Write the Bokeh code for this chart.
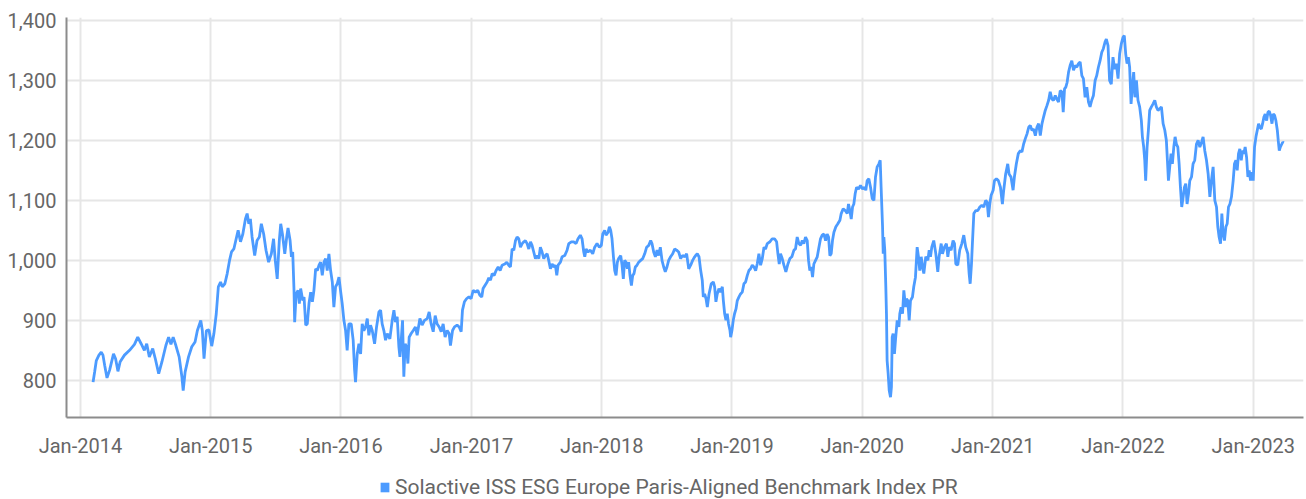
from datetime import datetime
from bokeh.plotting import figure
from bokeh.layouts import column
from bokeh.models import (Range1d, FixedTicker, DatetimeTickFormatter, NumeralTickFormatter,
                          Legend, LegendItem, ColumnDataSource)
from bokeh.embed import file_html
from bokeh.resources import INLINE

series_name = "Solactive ISS ESG Europe Paris-Aligned Benchmark Index PR"

years = [
    2014.097, 2014.109, 2014.122, 2014.142, 2014.160, 2014.173, 2014.186, 2014.204, 2014.224, 2014.254,
    2014.270, 2014.288, 2014.305, 2014.338, 2014.377, 2014.415, 2014.440, 2014.466, 2014.491, 2014.509,
    2014.529, 2014.555, 2014.575, 2014.601, 2014.626, 2014.656, 2014.677, 2014.695, 2014.712, 2014.733,
    2014.758, 2014.779, 2014.789, 2014.804, 2014.830, 2014.855, 2014.880, 2014.898, 2014.924, 2014.936,
    2014.949, 2014.967, 2014.987, 2015.008, 2015.025, 2015.043, 2015.059, 2015.076, 2015.089, 2015.109,
    2015.127, 2015.145, 2015.160, 2015.178, 2015.196, 2015.211, 2015.229, 2015.247, 2015.267, 2015.280,
    2015.293, 2015.305, 2015.318, 2015.338, 2015.356, 2015.374, 2015.389, 2015.407, 2015.425, 2015.445,
    2015.466, 2015.483, 2015.496, 2015.511, 2015.527,
    2015.538, 2015.551, 2015.569, 2015.584, 2015.594, 2015.610, 2015.620, 2015.630, 2015.640, 2015.645,
    2015.656, 2015.671, 2015.681, 2015.691, 2015.707, 2015.717, 2015.730, 2015.742, 2015.755, 2015.768,
    2015.781, 2015.793, 2015.806, 2015.819, 2015.832, 2015.844, 2015.857, 2015.870, 2015.883, 2015.895,
    2015.908, 2015.921, 2015.934, 2015.946, 2015.959, 2015.972, 2015.985, 2015.997, 2016.010, 2016.023,
    2016.036, 2016.048, 2016.061, 2016.079, 2016.094, 2016.105, 2016.112, 2016.125, 2016.138, 2016.151,
    2016.163, 2016.176, 2016.189, 2016.202, 2016.214, 2016.227, 2016.240, 2016.258, 2016.273, 2016.291,
    2016.304, 2016.316, 2016.329, 2016.342, 2016.355, 2016.375, 2016.393, 2016.406, 2016.418, 2016.431,
    2016.444, 2016.452, 2016.462, 2016.472, 2016.482, 2016.492, 2016.503, 2016.513, 2016.523, 2016.538,
    2016.554, 2016.571, 2016.584, 2016.605, 2016.622, 2016.640, 2016.661, 2016.676, 2016.691, 2016.707,
    2016.722, 2016.737, 2016.753, 2016.768, 2016.783, 2016.798, 2016.814, 2016.829, 2016.839, 2016.855,
    2016.870, 2016.890, 2016.906, 2016.921, 2016.931, 2016.946, 2016.962, 2016.980, 2016.997, 2017.013,
    2017.031, 2017.048, 2017.064, 2017.079, 2017.089,
    2017.120, 2017.133, 2017.146, 2017.159, 2017.174, 2017.189, 2017.205, 2017.220, 2017.235, 2017.256,
    2017.271, 2017.286, 2017.299, 2017.312, 2017.325, 2017.338, 2017.350, 2017.363, 2017.376, 2017.389,
    2017.402, 2017.414, 2017.427, 2017.440, 2017.453, 2017.465, 2017.478, 2017.491, 2017.504, 2017.517,
    2017.529, 2017.542, 2017.555, 2017.568, 2017.581, 2017.593, 2017.606, 2017.619, 2017.632, 2017.644,
    2017.655, 2017.665, 2017.683, 2017.696, 2017.716, 2017.734, 2017.747, 2017.767, 2017.785, 2017.803,
    2017.818, 2017.836, 2017.849, 2017.862, 2017.870, 2017.880, 2017.895, 2017.913, 2017.931, 2017.946,
    2017.964, 2017.982, 2017.997, 2018.008, 2018.023, 2018.033, 2018.049, 2018.059, 2018.069, 2018.079,
    2018.090, 2018.100, 2018.110, 2018.120, 2018.130, 2018.146, 2018.156, 2018.166, 2018.176, 2018.187,
    2018.197, 2018.207, 2018.217, 2018.228, 2018.238, 2018.248, 2018.258, 2018.271, 2018.284, 2018.299,
    2018.315, 2018.330, 2018.345, 2018.361, 2018.376, 2018.386, 2018.399, 2018.412, 2018.425, 2018.437,
    2018.450, 2018.463, 2018.476, 2018.488, 2018.501, 2018.514, 2018.529, 2018.545, 2018.560, 2018.575,
    2018.591, 2018.606, 2018.621, 2018.637, 2018.652, 2018.668, 2018.683, 2018.698, 2018.714,
    2018.721, 2018.734, 2018.747, 2018.760, 2018.772, 2018.780, 2018.790, 2018.801, 2018.811, 2018.824,
    2018.841, 2018.857, 2018.867, 2018.877, 2018.887, 2018.900, 2018.913, 2018.926, 2018.934, 2018.944,
    2018.954, 2018.964, 2018.974, 2018.985, 2018.990, 2019.000, 2019.010, 2019.020, 2019.031, 2019.041,
    2019.054, 2019.066, 2019.079, 2019.092, 2019.105, 2019.118, 2019.130, 2019.143, 2019.156, 2019.169,
    2019.182, 2019.194, 2019.207, 2019.220, 2019.233, 2019.246, 2019.258, 2019.271, 2019.292, 2019.309,
    2019.327, 2019.343, 2019.353, 2019.363, 2019.373, 2019.386, 2019.399, 2019.414, 2019.430, 2019.445,
    2019.460, 2019.476, 2019.488, 2019.501, 2019.514, 2019.527, 2019.540, 2019.552, 2019.565, 2019.578,
    2019.588, 2019.598, 2019.609, 2019.619, 2019.629, 2019.642, 2019.655, 2019.668, 2019.680, 2019.693,
    2019.706, 2019.719, 2019.731, 2019.742, 2019.752, 2019.762, 2019.772, 2019.783, 2019.798, 2019.813,
    2019.829, 2019.839, 2019.854, 2019.870, 2019.885, 2019.895, 2019.905, 2019.916, 2019.926, 2019.936,
    2019.946, 2019.957, 2019.972, 2019.987, 2020.003, 2020.018, 2020.028, 2020.038, 2020.051, 2020.064,
    2020.077, 2020.090, 2020.102, 2020.115, 2020.128, 2020.138,
    2020.145, 2020.156, 2020.161, 2020.166, 2020.173, 2020.181, 2020.186, 2020.191, 2020.199, 2020.207,
    2020.217, 2020.224, 2020.230, 2020.237, 2020.247, 2020.255, 2020.268, 2020.281, 2020.288, 2020.298,
    2020.309, 2020.319, 2020.332, 2020.339, 2020.349, 2020.360, 2020.370, 2020.385, 2020.395, 2020.408,
    2020.421, 2020.431, 2020.441, 2020.452, 2020.462, 2020.472, 2020.487, 2020.503, 2020.513, 2020.523,
    2020.533, 2020.548, 2020.564, 2020.579, 2020.589, 2020.605, 2020.615, 2020.630, 2020.645, 2020.656,
    2020.666, 2020.681, 2020.696, 2020.707, 2020.717, 2020.732, 2020.747, 2020.763, 2020.778, 2020.793,
    2020.809, 2020.819, 2020.827, 2020.837, 2020.844, 2020.855, 2020.870, 2020.885, 2020.901, 2020.916,
    2020.931, 2020.946, 2020.957, 2020.967, 2020.977, 2020.987, 2021.003, 2021.013, 2021.028, 2021.043,
    2021.059, 2021.074, 2021.084, 2021.099, 2021.115, 2021.125, 2021.140, 2021.156, 2021.166, 2021.181,
    2021.196, 2021.212,
    2021.224, 2021.237, 2021.250, 2021.263, 2021.276, 2021.288, 2021.301, 2021.314, 2021.327, 2021.339,
    2021.352, 2021.365, 2021.378, 2021.390, 2021.403, 2021.416, 2021.429, 2021.441, 2021.454, 2021.467,
    2021.480, 2021.492, 2021.505, 2021.518, 2021.531, 2021.541, 2021.551, 2021.561, 2021.571, 2021.582,
    2021.594, 2021.607, 2021.620, 2021.633, 2021.645, 2021.658, 2021.671, 2021.684, 2021.696, 2021.709,
    2021.722, 2021.735, 2021.747, 2021.760, 2021.773, 2021.786, 2021.798, 2021.811, 2021.824, 2021.837,
    2021.849, 2021.862,
    2021.872, 2021.885, 2021.897, 2021.910, 2021.923, 2021.936, 2021.949, 2021.962, 2021.974, 2021.987,
    2022.000, 2022.010, 2022.021, 2022.031, 2022.041, 2022.051, 2022.062, 2022.072, 2022.082, 2022.092,
    2022.103, 2022.115, 2022.128, 2022.141, 2022.149, 2022.159, 2022.167, 2022.174, 2022.185, 2022.195,
    2022.205, 2022.218, 2022.231, 2022.244, 2022.256, 2022.269, 2022.282, 2022.295, 2022.308, 2022.321,
    2022.333, 2022.341, 2022.349, 2022.359, 2022.369, 2022.379, 2022.390, 2022.400, 2022.410, 2022.421,
    2022.431, 2022.441, 2022.451, 2022.462, 2022.472, 2022.482, 2022.492, 2022.503, 2022.513, 2022.526,
    2022.538, 2022.551, 2022.564, 2022.577, 2022.590, 2022.603, 2022.615, 2022.628, 2022.641, 2022.654,
    2022.667, 2022.679, 2022.692, 2022.705, 2022.718, 2022.728, 2022.738, 2022.749, 2022.759, 2022.769,
    2022.779, 2022.790, 2022.800, 2022.810, 2022.821, 2022.833, 2022.846, 2022.856, 2022.867, 2022.877,
    2022.887, 2022.897, 2022.908, 2022.918, 2022.928, 2022.938, 2022.949, 2022.959, 2022.969, 2022.979,
    2022.990, 2023.000, 2023.010, 2023.021, 2023.031, 2023.041, 2023.051, 2023.062, 2023.072, 2023.082,
    2023.092, 2023.103, 2023.113, 2023.123, 2023.133, 2023.144, 2023.154, 2023.164, 2023.174, 2023.185,
    2023.192, 2023.200, 2023.208, 2023.215, 2023.226, 2023.236,
]

values = [
    797, 814, 833, 842, 847, 842, 825, 804, 817, 844,
    836, 815, 831, 842, 850, 860, 872, 861, 850, 861,
    839, 853, 836, 811, 831, 858, 872, 860, 872, 858,
    839, 806, 783, 814, 839, 856, 864, 883, 900, 883,
    836, 883, 884, 857, 878, 911, 956, 964, 956, 961,
    978, 1000, 1014, 1019, 1036, 1050, 1031, 1044, 1069, 1078,
    1061, 1069, 1039, 1008, 1033, 1039, 1061, 1044, 1017, 997,
    1011, 1036, 1000, 969, 1033,
    1061, 1044, 1011, 1039, 1054, 1033, 1006, 1014, 950, 897,
    944, 950, 928, 953, 933, 939, 892, 894, 928, 947,
    931, 950, 986, 983, 992, 997, 975, 997, 1003, 983,
    1011, 983, 964, 922, 956, 961, 972, 950, 928, 900,
    883, 850, 894, 894, 867, 817, 797, 844, 861, 844,
    894, 883, 889, 903, 875, 892, 883, 861, 889, 914,
    917, 894, 883, 867, 878, 869, 900, 917, 897, 906,
    856, 839, 867, 900, 806, 861, 856, 828, 872, 878,
    883, 889, 875, 903, 892, 900, 903, 914, 894, 881,
    908, 894, 889, 881, 894, 872, 883, 878, 858, 883,
    889, 892, 889, 881, 917, 931, 936, 939, 936, 950,
    947, 950, 942, 939, 953,
    964, 971, 967, 978, 975, 983, 989, 983, 992, 994,
    997, 992, 989, 1019, 1017, 1033, 1039, 1036, 1022, 1028,
    1031, 1033, 1028, 1019, 1031, 1025, 1014, 1003, 1008, 1003,
    1022, 1014, 1003, 1008, 1011, 1000, 986, 994, 989, 992,
    975, 992, 997, 1006, 1008, 1017, 1028, 1031, 1031, 1028,
    1036, 1042, 1036, 1014, 1006, 1019, 1014, 1017, 1011, 1022,
    1028, 1022, 1025, 1044, 1050, 1042, 1047, 1056, 1050, 1036,
    1006, 983, 975, 997, 1003, 1008, 992, 969, 1000, 997,
    986, 997, 975, 958, 975, 978, 989, 992, 997, 1000,
    1003, 1011, 1022, 1025, 1033, 1028, 1014, 1006, 1017, 1008,
    1022, 1000, 989, 981, 989, 1000, 1006, 1011, 1019, 1017,
    1014, 1003, 1008, 1006, 1011, 986, 992, 1000, 1006,
    1008, 1011, 1006, 983, 967, 939, 944, 936, 922, 944,
    961, 964, 956, 931, 944, 953, 947, 956, 933, 911,
    900, 911, 894, 883, 872, 883, 900, 911, 919, 933,
    939, 944, 947, 961, 964, 975, 983, 986, 992, 989,
    983, 994, 1011, 992, 1003, 1022, 1019, 1028, 1031, 1036,
    1036, 1031, 1011, 994, 1011, 1003, 992, 981, 994, 1003,
    1006, 1017, 1019, 1039, 1028, 1025, 1033, 1028, 1039, 1033,
    1000, 983, 989, 972, 994, 1000, 1006, 1022, 1036, 1042,
    1044, 1033, 1044, 1039, 1008, 1011, 1033, 1047, 1056, 1061,
    1067, 1078, 1086, 1083, 1078, 1094, 1083, 1069, 1089, 1094,
    1111, 1122, 1119, 1125, 1119, 1122, 1117, 1133, 1136, 1122,
    1103, 1100, 1139, 1156, 1161, 1167,
    1122, 1056, 1011, 1039, 1017, 956, 911, 833, 811, 783,
    772, 789, 872, 878, 844, 867, 900, 889, 911, 922,
    911, 950, 922, 936, 933, 900, 933, 939, 956, 972,
    1022, 1006, 983, 1006, 989, 978, 1006, 1000, 1017, 1006,
    1022, 1033, 1011, 981, 1006, 1028, 1011, 1022, 1028, 1006,
    1022, 1017, 1033, 1028, 994, 992, 1017, 1028, 1042, 1022,
    1011, 978, 961, 994, 1028, 1078, 1083, 1083, 1089, 1092,
    1089, 1100, 1097, 1072, 1094, 1108, 1117, 1133, 1136, 1133,
    1122, 1094, 1117, 1144, 1161, 1144, 1139, 1117, 1139, 1161,
    1178, 1183,
    1181, 1194, 1203, 1211, 1222, 1225, 1217, 1219, 1208, 1222,
    1228, 1208, 1228, 1239, 1250, 1258, 1267, 1281, 1269, 1267,
    1275, 1269, 1264, 1283, 1281, 1247, 1286, 1289, 1297, 1314,
    1325, 1333, 1317, 1325, 1322, 1328, 1331, 1308, 1303, 1272,
    1289, 1264, 1256, 1267, 1275, 1300, 1308, 1322, 1333, 1347,
    1353, 1364,
    1369, 1358, 1300, 1294, 1339, 1319, 1328, 1303, 1344, 1361,
    1372, 1375, 1344, 1328, 1339, 1322, 1261, 1289, 1314, 1272,
    1300, 1267, 1256, 1233, 1206, 1189, 1167, 1133, 1189, 1217,
    1250, 1256, 1261, 1267, 1256, 1250, 1253, 1256, 1228, 1217,
    1200, 1167, 1133, 1156, 1178, 1161, 1189, 1206, 1194, 1189,
    1161, 1122, 1089, 1106, 1122, 1128, 1094, 1111, 1133, 1139,
    1161, 1167, 1194, 1200, 1189, 1197, 1206, 1183, 1167, 1144,
    1106, 1133, 1156, 1100, 1089, 1056, 1039, 1028, 1078, 1044,
    1033, 1056, 1061, 1089, 1094, 1106, 1133, 1161, 1167, 1150,
    1178, 1186, 1167, 1183, 1178, 1189, 1172, 1139, 1150, 1133,
    1147, 1133, 1189, 1206, 1217, 1228, 1222, 1219, 1228, 1239,
    1244, 1233, 1247, 1249, 1242, 1228, 1244, 1242, 1233, 1217,
    1200, 1183, 1189, 1192, 1197, 1196,
]

tick_years = [2014, 2015, 2016, 2017, 2018, 2019, 2020, 2021, 2022, 2023]
y_ticks = [800, 900, 1000, 1100, 1200, 1300, 1400]


def to_dt(y):
    yr = int(y)
    start = datetime(yr, 1, 1)
    end = datetime(yr + 1, 1, 1)
    return start + (end - start) * (y - yr)


def to_ms(d):
    return (d - datetime(1970, 1, 1)).total_seconds() * 1000.0


dates = [to_dt(y) for y in years]
source = ColumnDataSource(data=dict(date=dates, value=values))

FONT = "Roboto"
TXT = "#666666"
LINE = "#4C9BFF"

p = figure(width=1306, height=460, x_axis_type="datetime",
           x_range=Range1d(to_dt(2013.893), to_dt(2023.386)),
           y_range=Range1d(738, 1405),
           output_backend="svg", toolbar_location=None,
           min_border_left=66, min_border_right=3, min_border_top=17, min_border_bottom=43)
p.outline_line_color = None
p.background_fill_color = "white"
p.border_fill_color = "white"

p.line("date", "value", source=source, line_color=LINE, line_width=2.8)

x_ticks = [to_ms(datetime(y, 1, 1)) for y in tick_years]
p.xaxis.ticker = FixedTicker(ticks=x_ticks)
fmt = "%b-%Y"
p.xaxis.formatter = DatetimeTickFormatter(milliseconds=fmt, seconds=fmt, minsec=fmt, minutes=fmt,
                                          hourmin=fmt, hours=fmt, days=fmt, months=fmt, years=fmt)
p.yaxis.ticker = FixedTicker(ticks=y_ticks)
p.yaxis.formatter = NumeralTickFormatter(format="0,0")

for ax in (p.xaxis, p.yaxis):
    ax.axis_line_color = "#8c8c8c"
    ax.axis_line_width = 2
    ax.major_tick_line_color = None
    ax.minor_tick_line_color = None
    ax.major_label_text_font = FONT
    ax.major_label_text_font_size = "20px"
    ax.major_label_text_color = TXT
p.xaxis.major_label_standoff = 10
p.yaxis.major_label_standoff = 4

p.xgrid.ticker = FixedTicker(ticks=x_ticks)
p.ygrid.ticker = FixedTicker(ticks=y_ticks)
for g in (p.xgrid, p.ygrid):
    g.grid_line_color = "#e6e6e6"
    g.grid_line_width = 2

# legend strip below the chart (its frame is aligned with the chart's frame)
lg = figure(width=1306, height=39, x_range=Range1d(0, 1240), y_range=Range1d(0, 39),
            output_backend="svg", toolbar_location=None,
            min_border_left=0, min_border_right=0, min_border_top=0, min_border_bottom=0)
lg.axis.visible = False
lg.grid.visible = False
lg.outline_line_color = None
lg.background_fill_color = "white"
lg.border_fill_color = "white"
# swatch proxy, placed off the visible range; only its legend glyph is seen
proxy = lg.quad(left=[-50], right=[-40], top=[-50], bottom=[-60], fill_color=LINE, line_color=None)
legend = Legend(items=[LegendItem(label=series_name, renderers=[proxy])],
                location=(313, 0), orientation="horizontal",
                padding=0, margin=0, spacing=0,
                glyph_width=11, glyph_height=12, label_standoff=5,
                label_text_font=FONT, label_text_font_size="21px", label_text_color=TXT,
                border_line_color=None, background_fill_alpha=0)
lg.add_layout(legend)

layout = column(p, lg, spacing=0)
open("out.html", "w").write(file_html(layout, INLINE))
